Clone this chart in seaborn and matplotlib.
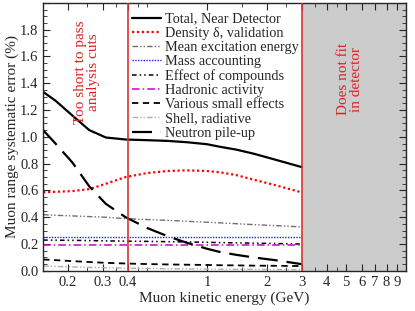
import numpy as np
import matplotlib
matplotlib.use("Agg")
import matplotlib.pyplot as plt
import matplotlib.ticker as mticker
import seaborn as sns
import pandas as pd

# ---- data ----
energy = [0.15, 0.173, 0.21, 0.256, 0.31, 0.39, 0.5, 0.63, 0.79, 1.0, 1.17, 1.4, 1.72, 2.2, 3.0]
total = [1.335, 1.27, 1.16, 1.05, 0.995, 0.98, 0.975, 0.97, 0.96, 0.945, 0.925, 0.905, 0.874, 0.83, 0.774]
density = [0.587, 0.59, 0.595, 0.61, 0.65, 0.70, 0.73, 0.745, 0.75, 0.745, 0.735, 0.715, 0.68, 0.64, 0.585]
mean_exc = [0.42, 0.415, 0.41, 0.405, 0.40, 0.39, 0.383, 0.377, 0.37, 0.363, 0.358, 0.352, 0.345, 0.338, 0.328]
mass_acc = [0.25] * 15
compounds = [0.23, 0.229, 0.228, 0.226, 0.224, 0.222, 0.22, 0.218, 0.216, 0.213, 0.211, 0.209, 0.207, 0.204, 0.20]
hadronic = [0.19] * 15
small_eff = [0.085, 0.08, 0.073, 0.066, 0.06, 0.055, 0.051, 0.048, 0.046, 0.044, 0.042, 0.041, 0.039, 0.038, 0.036]
shell_rad = [0.036, 0.033, 0.03, 0.026, 0.023, 0.02, 0.018, 0.016, 0.015, 0.013, 0.012, 0.012, 0.011, 0.010, 0.009]
neutron = [1.05, 0.95, 0.81, 0.63, 0.50, 0.40, 0.32, 0.26, 0.21, 0.165, 0.14, 0.12, 0.10, 0.08, 0.05]

labels = ["Total, Near Detector", "Density \u03b4, validation", "Mean excitation energy",
          "Mass accounting", "Effect of compounds", "Hadronic activity",
          "Various small effects", "Shell, radiative", "Neutron pile-up"]
series = [total, density, mean_exc, mass_acc, compounds, hadronic, small_eff, shell_rad, neutron]

x_ticks = [0.2, 0.3, 0.4, 1, 2, 3, 4, 5, 6, 7, 8, 9]
x_ticklabels = ["0.2", "0.3", "0.4", "1", "2", "3", "4", "5", "6", "7", "8", "9"]

styles = [
    dict(color="black", lw=1.6, ls="-"),
    dict(color="#ff0000", lw=1.6, ls=(0, (1, 1.2))),
    dict(color="#707070", lw=1.0, ls=(0, (4, 1.5, 1, 1.5, 1, 1.5))),
    dict(color="#2020ff", lw=1.0, ls=(0, (1, 1))),
    dict(color="black", lw=1.1, ls=(0, (3, 2, 1, 2, 1, 2))),
    dict(color="#cc00cc", lw=1.1, ls=(0, (5, 2, 1, 2))),
    dict(color="black", lw=1.3, ls=(0, (3.5, 2.5))),
    dict(color="#b0b0b0", lw=1.0, ls=(0, (4, 1.5, 1, 1.5, 1, 1.5))),
    dict(color="black", lw=1.6, ls=(0, (9, 4))),
]

sns.set_style("ticks")
plt.rcParams["font.family"] = ["Liberation Serif", "DejaVu Serif"]

fig = plt.figure(figsize=(4.15, 3.11), dpi=100)
ax = fig.add_axes([0.104, 0.129, 0.874, 0.862])

for lab, vals, st in zip(labels, series, styles):
    df = pd.DataFrame({"E": energy, "v": vals})
    sns.lineplot(data=df, x="E", y="v", ax=ax, label=lab, **st)

ax.set_xscale("log")
ax.set_xlim(0.15, 10)
ax.set_ylim(0, 2.0)

ax.axvspan(3, 10, color="#cccccc", zorder=0, lw=0)
ax.axvline(0.4, color="#dd3333", lw=1.2, zorder=3)
ax.axvline(3, color="#dd3333", lw=1.2, zorder=3)

ax.text(0.25, 1.48, "Too short to pass\nanalysis cuts", rotation=90, color="#dd2222",
        fontsize=11, ha="center", va="center", linespacing=1.0)
ax.text(5.25, 1.43, "Does not fit\nin detector", rotation=90, color="#dd2222",
        fontsize=11, ha="center", va="center", linespacing=1.0)

ax.xaxis.set_major_locator(mticker.FixedLocator(x_ticks))
ax.xaxis.set_major_formatter(mticker.FixedFormatter(x_ticklabels))
ax.xaxis.set_minor_locator(mticker.LogLocator(base=10, subs=np.arange(1, 10) * 0.5))
ax.xaxis.set_minor_formatter(mticker.NullFormatter())
ax.yaxis.set_major_locator(mticker.MultipleLocator(0.2))
ax.yaxis.set_minor_locator(mticker.MultipleLocator(0.05))
ax.yaxis.set_major_formatter(mticker.FuncFormatter(lambda v, p: "" if v > 1.9 else f"{v:.1f}"))

ax.tick_params(which="both", direction="in", top=True, right=True, labelsize=10.5)
ax.tick_params(which="major", length=5, width=0.8)
ax.tick_params(which="minor", length=3, width=0.6)
for s in ax.spines.values():
    s.set_linewidth(1.0)

ax.set_xlabel("Muon kinetic energy (GeV)", fontsize=11, labelpad=2)
ax.set_ylabel("Muon range systematic error (%)", fontsize=11, labelpad=1)

leg = ax.legend(loc="upper left", bbox_to_anchor=(0.23, 0.985), frameon=False, fontsize=10.3,
                handlelength=2.0, handletextpad=0.3, labelspacing=0.08, borderaxespad=0)

fig.savefig("out.png", dpi=100)
